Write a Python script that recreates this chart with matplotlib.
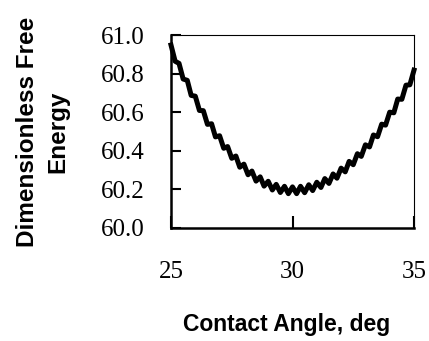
import matplotlib
matplotlib.use("Agg")
import matplotlib.pyplot as plt
from matplotlib.ticker import FormatStrFormatter

# contact angle (deg) and dimensionless free energy (peaks/troughs of the ripple)
angle = [25.00, 25.17, 25.33, 25.50, 25.67, 25.83, 26.00, 26.17, 26.33, 26.50,
         26.67, 26.83, 27.00, 27.17, 27.33, 27.50, 27.67, 27.83, 28.00, 28.17,
         28.33, 28.50, 28.67, 28.83, 29.00, 29.17, 29.33, 29.50, 29.67, 29.83,
         30.00, 30.17, 30.33, 30.50, 30.67, 30.83, 31.00, 31.17, 31.33, 31.50,
         31.67, 31.83, 32.00, 32.17, 32.33, 32.50, 32.67, 32.83, 33.00, 33.17,
         33.33, 33.50, 33.67, 33.83, 34.00, 34.17, 34.33, 34.50, 34.67, 34.83,
         35.00]
energy = [60.948, 60.864, 60.853, 60.772, 60.765, 60.687, 60.683, 60.609, 60.608, 60.537,
          60.540, 60.472, 60.478, 60.413, 60.422, 60.361, 60.373, 60.315, 60.331, 60.276,
          60.295, 60.243, 60.265, 60.217, 60.242, 60.197, 60.226, 60.184, 60.216, 60.178,
          60.213, 60.178, 60.216, 60.183, 60.224, 60.194, 60.237, 60.210, 60.256, 60.231,
          60.280, 60.258, 60.310, 60.291, 60.345, 60.328, 60.385, 60.371, 60.431, 60.420,
          60.482, 60.473, 60.538, 60.533, 60.600, 60.597, 60.668, 60.667, 60.740, 60.742,
          60.818]

xticks = [25, 30, 35]
yticks = [60.0, 60.2, 60.4, 60.6, 60.8, 61.0]

fig = plt.figure(figsize=(4.29, 3.41), dpi=100)
ax = fig.add_axes([171/429, 1-228/341, 243/429, 193/341])

ax.plot(angle, energy, c='k', linewidth=3.6, solid_joinstyle='round', clip_on=False)

ax.set_xlim(25, 35)
ax.set_ylim(60.0, 61.0)
ax.set_xticks(xticks)
ax.set_yticks(yticks)
ax.yaxis.set_major_formatter(FormatStrFormatter('%.1f'))

for lab in ax.get_xticklabels() + ax.get_yticklabels():
    lab.set_fontfamily('Liberation Serif')
    lab.set_fontsize(18)

ax.tick_params(axis='y', direction='in', length=7, width=1.5, pad=19)
ax.tick_params(axis='x', direction='in', length=9, width=1.5, pad=24)

ax.spines['left'].set_linewidth(1.8)
ax.spines['bottom'].set_linewidth(1.8)
ax.spines['top'].set_linewidth(0.8)
ax.spines['right'].set_linewidth(0.8)

ax.set_xlabel('Contact Angle, deg', fontfamily='Liberation Sans', fontweight='bold', fontsize=16.5)
ax.xaxis.set_label_coords(0.477, -0.44)

fig.text(43/429, 1-132/341, 'Dimensionless Free\nEnergy', rotation=90,
         ha='center', va='center', multialignment='center', linespacing=1.4,
         fontfamily='Liberation Sans', fontweight='bold', fontsize=17.5)

fig.savefig('out.png', dpi=100)
